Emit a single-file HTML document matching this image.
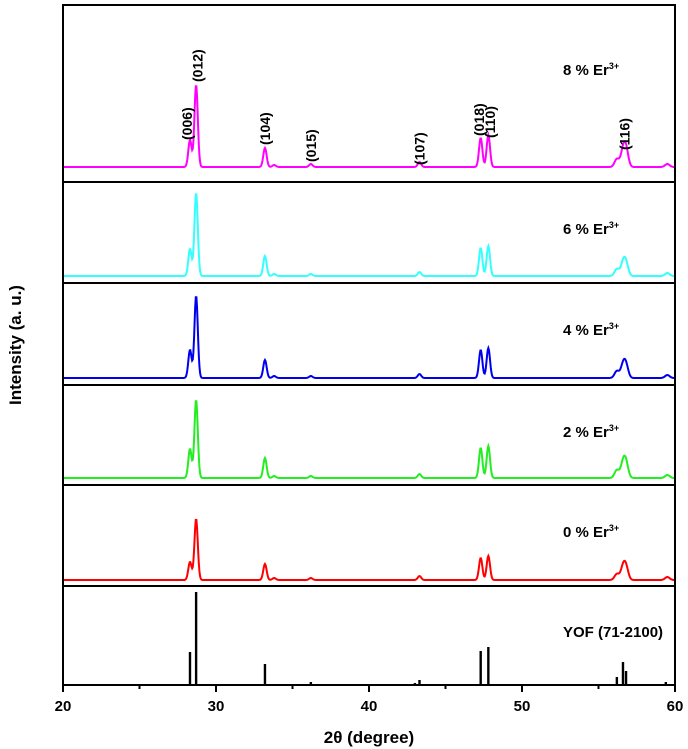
<!DOCTYPE html>
<html><head><meta charset="utf-8"><style>
body{margin:0;background:#fff}
svg{display:block;font-family:"Liberation Sans",sans-serif;font-weight:bold}
</style></head><body>
<svg id="c" width="688" height="749"></svg>
<script>
const xTicks=[20,30,40,50,60];
const peakPos=[28.3,28.7,33.2,33.8,36.2,43.3,47.3,47.8,56.2,56.6,56.8,59.5];
const series8=[27,82,19,2,3,5,29,32,8,15,17,3];
const series6=[27,83,20,2,2,4,28,30,7,12,12,3];
const series4=[28,82,18,2,2,4,28,30,7,12,12,3];
const series2=[29,78,20,2,2,4,30,32,8,14,14,3];
const series0=[18,61,16,2,2,4,22,24,6,12,12,3];
const labels=["8 % Er","6 % Er","4 % Er","2 % Er","0 % Er"];
const colors=["#ff00ff","#33ffff","#0000ee","#22ee22","#ff0000"];
const stickPos=[28.3,28.7,33.2,36.2,43.0,43.3,47.3,47.8,56.2,56.6,56.8,58.9,59.4];
const stickH=[33,93,21,3,2,5,34,38,8,23,14,1,3];
const hkl=["(006)","(012)","(104)","(015)","(107)","(018)","(110)","(116)"];
const hklPos=[28.1,28.8,33.2,36.2,43.3,47.2,47.9,56.7];
const hklY=[140,82,145,162,165,136,138,150];

const svg=document.getElementById('c');const NS="http://www.w3.org/2000/svg";
const L=63,R=675;
const X=v=>L+(v-20)/40*(R-L);
function el(t,a,p){const e=document.createElementNS(NS,t);for(const k in a)e.setAttribute(k,a[k]);(p||svg).appendChild(e);return e;}
const panels=[[5,182,167],[182,283,276],[283,385,378],[385,485,478],[485,586,580]];
const allSeries=[series8,series6,series4,series2,series0];
allSeries.forEach((s,i)=>{
  const base=panels[i][2];let d="";
  for(let v=20;v<=60;v+=0.04){
    let y=0;s.forEach((h,j)=>{const w=(peakPos[j]>50?0.15:0.11);y+=h*Math.exp(-Math.pow((v-peakPos[j])/w,2)/2);});
    d+=(d?"L":"M")+X(v).toFixed(2)+","+(base-y).toFixed(2);
  }
  const p=el('path',{d:d,fill:'none',stroke:colors[i],'stroke-width':2});
  
  
  const t=el('text',{x:563,y:panels[i][0]+(i==0?70:52),'font-size':15});
  
  
  t.textContent=labels[i];
  const sup=el('tspan',{'font-size':9,dy:-6},t);sup.textContent='3+';
});
stickPos.forEach((p,i)=>{
  const r=el('rect',{x:X(p)-1.2,y:685-stickH[i],width:2.4,height:stickH[i],fill:'#000'});
  
  
});
const yt=el('text',{x:563,y:637,'font-size':15});


yt.textContent="YOF (71-2100)";
hkl.forEach((h,i)=>{
  const t=el('text',{transform:`translate(${X(hklPos[i])+5},${hklY[i]}) rotate(-90)`,'font-size':14});
  
  
  t.textContent=h;
});
[182,283,385,485,586].forEach(y=>{
  const l=el('line',{x1:L,x2:R,y1:y,y2:y,stroke:'#000','stroke-width':2});
  
  
});
const fr=el('rect',{x:L,y:5,width:R-L,height:680,fill:'none',stroke:'#000','stroke-width':2});


for(let v=20;v<=60;v+=5){
  const tk=el('line',{x1:X(v),x2:X(v),y1:685,y2:v%10==0?692:689,stroke:'#000','stroke-width':2});
  
  
}
xTicks.forEach(v=>{
  const t=el('text',{x:X(v),y:711,'font-size':15,'text-anchor':'middle'});
  
  
  t.textContent=v;
});
const xa=el('text',{x:369,y:743,'font-size':17,'text-anchor':'middle'});


xa.textContent="2θ (degree)";
const ya=el('text',{transform:'translate(21,345) rotate(-90)','font-size':17,'text-anchor':'middle'});


ya.textContent="Intensity (a. u.)";
</script>
</body></html>
